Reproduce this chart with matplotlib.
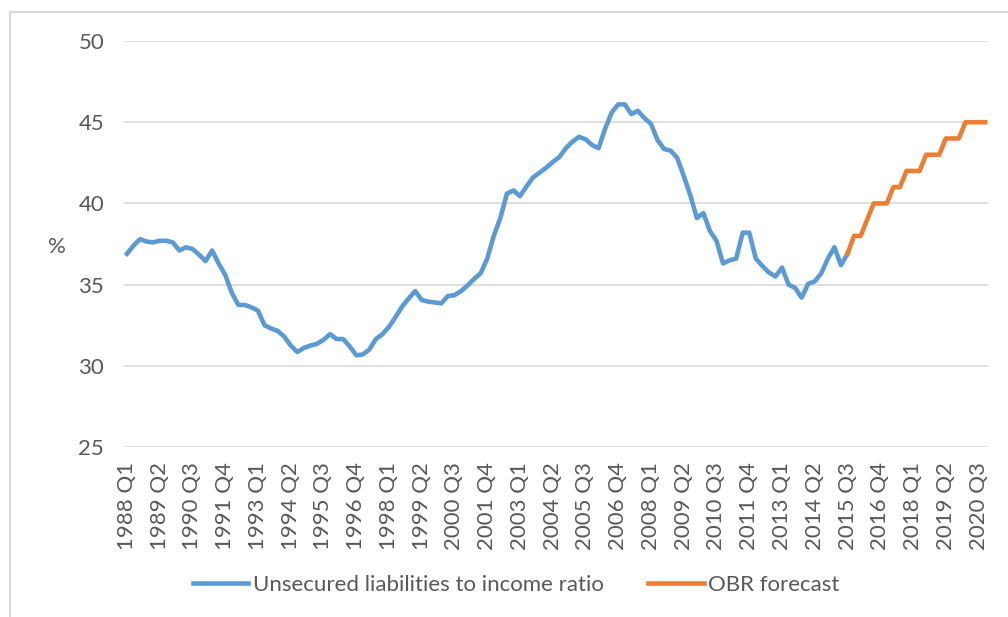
"""Unsecured liabilities to income ratio with OBR forecast (quarterly, 1988 Q1 - 2020 Q4)."""

import numpy as np
import matplotlib.pyplot as plt
from matplotlib.patches import Rectangle

# ============================================================
# Data
# ============================================================
start_year = 1988
n_quarters = 132  # 1988 Q1 .. 2020 Q4

# Unsecured liabilities to income ratio, %, 1988 Q1 .. 2015 Q3
ratio = [
    36.9, 37.4, 37.8, 37.65, 37.6, 37.7, 37.7, 37.6, 37.1, 37.3,
    37.2, 36.85, 36.45, 37.1, 36.3, 35.6, 34.5, 33.75, 33.75, 33.6,
    33.4, 32.5, 32.3, 32.15, 31.8, 31.25, 30.85, 31.1, 31.25, 31.35,
    31.6, 31.95, 31.65, 31.65, 31.2, 30.65, 30.7, 31.0, 31.65, 31.95,
    32.4, 33.0, 33.65, 34.15, 34.6, 34.05, 33.95, 33.9, 33.85, 34.3,
    34.35, 34.6, 34.95, 35.35, 35.7, 36.6, 38.0, 39.1, 40.6, 40.8,
    40.45, 41.05, 41.6, 41.9, 42.2, 42.55, 42.85, 43.4, 43.8, 44.1,
    43.95, 43.6, 43.4, 44.6, 45.6, 46.1, 46.1, 45.5, 45.7, 45.25,
    44.9, 43.9, 43.35, 43.25, 42.8, 41.7, 40.5, 39.1, 39.4, 38.3,
    37.7, 36.3, 36.5, 36.6, 38.2, 38.2, 36.6, 36.15, 35.75, 35.5,
    36.05, 35.0, 34.8, 34.2, 35.05, 35.2, 35.7, 36.6, 37.3, 36.2,
    36.9,
]

# OBR forecast, %, 2015 Q3 .. 2020 Q4
forecast = [
    36.9, 38, 38, 39, 40, 40, 40, 41, 41, 42, 42,
    42, 43, 43, 43, 44, 44, 44, 45, 45, 45, 45,
]
forecast_start = 110  # index of 2015 Q3

quarter_labels = [f"{start_year + i // 4} Q{i % 4 + 1}" for i in range(n_quarters)]
label_step = 5

# ============================================================
# Styling
# ============================================================
blue = "#5B9BD5"
orange = "#ED7D31"
text_grey = "#595959"
grid_grey = "#D9D9D9"
fs = 16
plt.rcParams["font.family"] = ["Lato", "DejaVu Sans"]

fig = plt.figure(figsize=(10.08, 6.17), dpi=100)
ax = fig.add_axes([0.1227, 0.2755, 0.8578, 0.658])

x_hist = np.arange(len(ratio))
x_fc = np.arange(forecast_start, forecast_start + len(forecast))

ax.plot(x_hist, ratio, color=blue, lw=3.3, solid_joinstyle="round",
        label="Unsecured liabilities to income ratio")
ax.plot(x_fc, forecast, color=orange, lw=3.3, solid_joinstyle="round",
        label="OBR forecast")

ax.set_xlim(-0.5, n_quarters - 0.5)
ax.set_ylim(25, 50)
ax.set_yticks(np.arange(25, 51, 5))
ticks = np.arange(0, n_quarters, label_step)
ax.set_xticks(ticks)
ax.set_xticklabels([quarter_labels[t] for t in ticks], rotation=90)

ax.grid(axis="y", color=grid_grey, lw=1.2)
ax.set_axisbelow(True)
for s in ax.spines.values():
    s.set_visible(False)
ax.tick_params(axis="both", length=0, labelsize=fs, colors=text_grey)
ax.tick_params(axis="x", pad=11)
ax.tick_params(axis="y", pad=14)

ax.set_ylabel("%", rotation=0, fontsize=fs, color=text_grey, ha="center", va="center")
ax.yaxis.set_label_coords(-0.077, 0.493)

fig.legend(loc="center", bbox_to_anchor=(0.512, 0.052), ncol=2, frameon=False,
           fontsize=fs, labelcolor=text_grey, handlelength=2.5,
           handletextpad=0.2, columnspacing=2.0)

# outer chart frame (cut off at right/bottom like the reference)
fig.patches.append(Rectangle((10 / 1008, -0.05), 1.2, 1 - 12 / 617 + 0.05,
                             transform=fig.transFigure, fill=False,
                             edgecolor="#D9D9D9", lw=1.5))

fig.savefig("out.png", dpi=100)
